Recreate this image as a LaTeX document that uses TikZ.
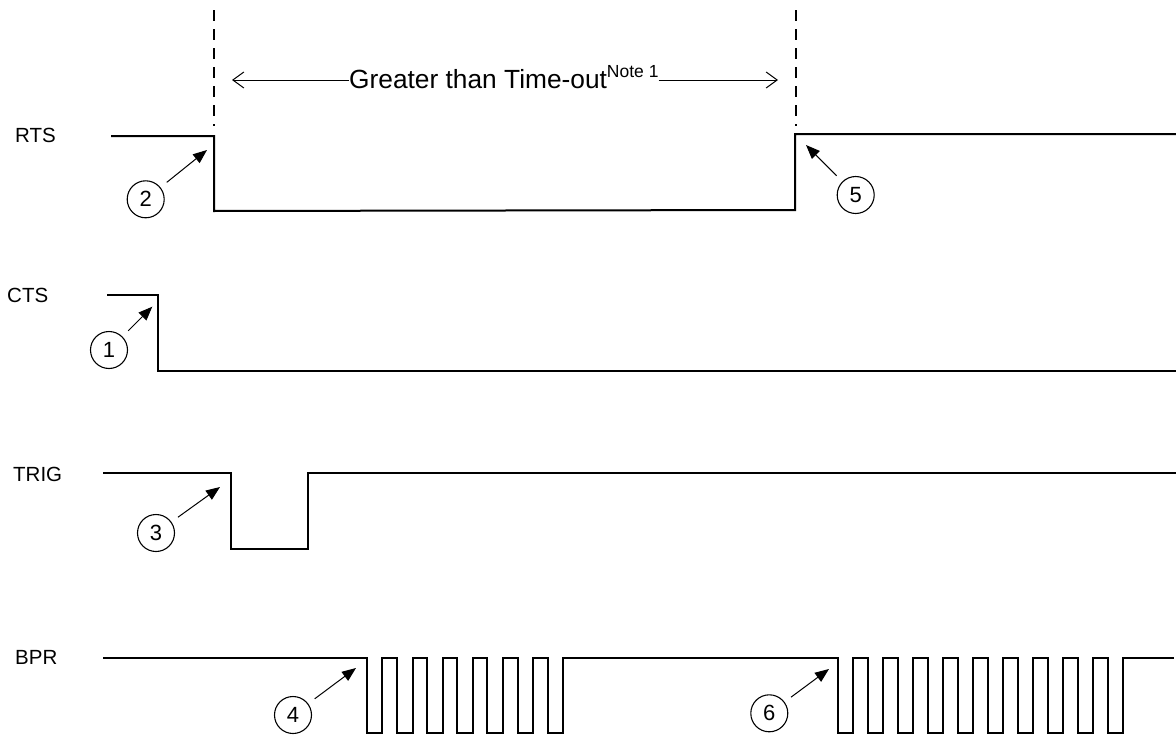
\documentclass[tikz,border=0pt]{standalone}
\usepackage{fontspec}
\setmainfont{Liberation Sans}
\usetikzlibrary{arrows.meta}
\begin{document}
\begin{tikzpicture}[x=1pt,y=-1pt,
  sig/.style={line width=2pt, line join=miter},
  num/.style={circle,draw,line width=1.1pt,minimum size=37pt,inner sep=0pt,font=\fontsize{22}{26}\selectfont},
  lbl/.style={anchor=base west,inner sep=0pt,font=\fontsize{20.5}{24}\selectfont},
  pointer/.style={line width=1pt,-{Triangle[length=14pt,width=11pt]},shorten <=8pt},
  guide/.style={line width=1.5pt,dash pattern=on 11pt off 8pt},
  dim/.style={line width=1pt,-{Straight Barb[length=11pt,width=16pt]}}]
\useasboundingbox (0,0) rectangle (1176,736);

% signal labels
\node[lbl] (rts) at (15,142) {RTS};
\node[lbl] (cts) at (7,302) {CTS};
\node[lbl] (trig) at (13,481) {TRIG};
\node[lbl] (bpr) at (15,664) {BPR};

% guide lines
\coordinate (g1a) at (214,10); \coordinate (g1b) at (214,126);
\coordinate (g2a) at (796,10); \coordinate (g2b) at (796,126);
\draw[guide] (g1a) -- (g1b);
\draw[guide] (g2a) -- (g2b);

% dimension
\node[anchor=base west,inner sep=0pt,font=\fontsize{26.3}{30}\selectfont] (gt) at (349,88)
  {Greater than Time-out\raisebox{11pt}{\fontsize{17.5}{20}\selectfont Note 1}};
\coordinate (la) at (232,80);
\coordinate (ra) at (778,80);
\draw[dim] (la -| gt.west) -- (la);
\draw[dim] (ra -| gt.east) -- (ra);

% waveforms
\draw[sig] (111,136) -- (214,136) -- (214,211) -- (795,210) -- (795,134) -- (1176,134);
\draw[sig] (107,295) -- (158,295) -- (158,371) -- (1176,371);
\draw[sig] (103,473) -- (231,473) -- (231,549) -- (308,549) -- (308,473) -- (1176,473);
\draw[sig] (103,658) -- (367,658)
  \foreach \i in {0,...,6}{ -- ({367+30.1*\i},658) -- ({367+30.1*\i},733) -- ({382.4+30.1*\i},733) -- ({382.4+30.1*\i},658)}
  -- (837.7,658)
  \foreach \i in {0,...,9}{ -- ({837.7+30.07*\i},658) -- ({837.7+30.07*\i},733) -- ({852.8+30.07*\i},733) -- ({852.8+30.07*\i},658)}
  -- (1174,658);

% numbered markers
\node[num] (c1) at (109,350) {1};
\node[num] (c2) at (145.7,199.3) {2};
\node[num] (c3) at (156,533) {3};
\node[num] (c4) at (293,715) {4};
\node[num] (c5) at (855.7,195) {5};
\node[num] (c6) at (769.3,713.3) {6};
\coordinate (t1) at (152.3,306.7);
\coordinate (t2) at (207,150);
\coordinate (t3) at (220,487);
\coordinate (t4) at (356,668);
\coordinate (t5) at (806,145);
\coordinate (t6) at (829,669);
\draw[pointer] (c1) -- (t1);
\draw[pointer] (c2) -- (t2);
\draw[pointer] (c3) -- (t3);
\draw[pointer] (c4) -- (t4);
\draw[pointer] (c5) -- (t5);
\draw[pointer] (c6) -- (t6);
\end{tikzpicture}
\end{document}
